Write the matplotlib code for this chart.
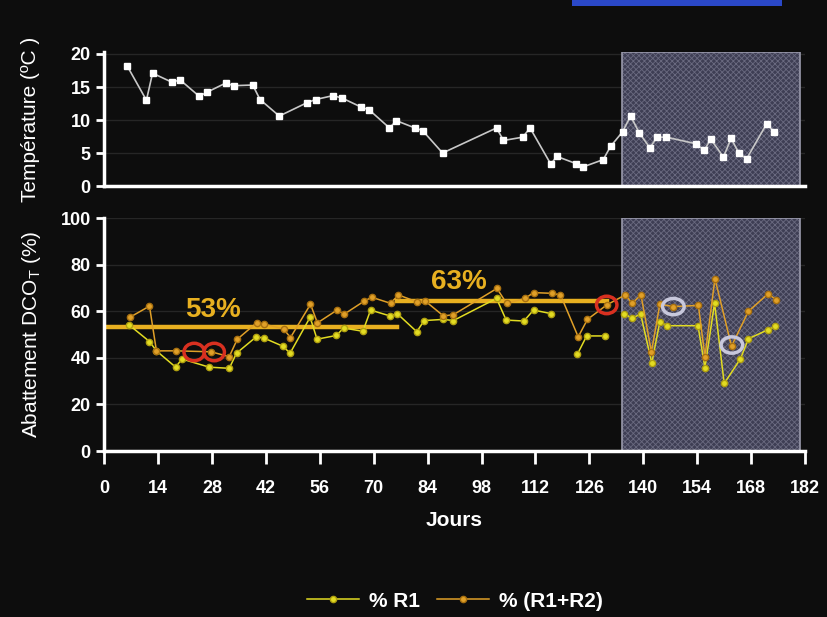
import matplotlib
matplotlib.use("Agg")
import matplotlib.pyplot as plt
import numpy as np
from matplotlib.patches import Ellipse, Rectangle

plt.rcParams['font.family'] = ['Liberation Sans', 'DejaVu Sans']
plt.rcParams['hatch.linewidth'] = 0.6

# Temperature (top panel)
temp_days = [6, 11, 12.6, 17.7, 19.7, 24.7, 26.7, 31.6, 33.7, 38.6, 40.5, 45.5,
             52.6, 54.9, 59.5, 61.9, 66.6, 68.9, 74.1, 75.9, 80.7, 82.7, 87.9,
             101.9, 103.7, 108.7, 110.6, 116.0, 117.5, 122.5, 124.4, 129.6, 131.5,
             134.6, 136.7, 139, 141.7, 143.6, 146, 153.7, 155.8, 157.5, 160.8,
             162.8, 164.8, 166.8, 172, 174]
temp = [18.2, 13.0, 17.1, 15.7, 16.1, 13.6, 14.2, 15.6, 15.2, 15.3, 13.1, 10.6,
        12.6, 13.1, 13.7, 13.3, 12.0, 11.5, 8.8, 9.9, 8.8, 8.4, 5.0,
        8.8, 6.9, 7.4, 8.8, 3.3, 4.5, 3.4, 2.9, 4.0, 6.0,
        8.2, 10.6, 8.0, 5.8, 7.4, 7.4, 6.4, 5.4, 7.1, 4.4,
        7.2, 5.0, 4.1, 9.4, 8.2]

# % R1 (NaN = no line drawn)
r1_days = [6.6, 11.8, 13.6, 18.6, 20.2, 27.3, 32.5, 34.4, 39.5, 41.5, 46.4, 48.3,
           53.5, 55.3, 60.3, 62.2, 67.2, 69.2, 74.2, 76.1, 81.2, 83.1, 88.1, 90.7,
           101.9, 104.4, 109.0, 111.5, 116.0, 119.5, 122.9, 125.3, 130.0, 132.5,
           135.0, 137.1, 139.3, 142.2, 144.3, 146.1, 154.2, 156.0, 158.5, 161.0,
           165.2, 167.3, 172.3, 174.3]
r1 = [54, 47, 43, 36, 39.5, 36, 35.5, 42, 49, 48.5, 45, 42,
      57.4, 48, 49.6, 52.8, 51.4, 60.5, 58, 59, 51.2, 56, 56.5, 56,
      65.5, 56.2, 55.8, 60.5, 59, np.nan, 41.6, 49.4, 49.4, np.nan,
      59, 57, 58.8, 37.8, 55.5, 53.8, 53.8, 35.8, 63.5, 29,
      39.5, 48.2, 52, 53.5]

# % (R1+R2)
r12_days = [6.7, 11.8, 13.6, 18.7, 27.8, 32.5, 34.6, 39.6, 41.5, 46.6, 48.4,
            53.6, 55.4, 60.4, 62.4, 67.4, 69.5, 74.4, 76.4, 81.3, 83.3, 88.1, 90.7,
            102.0, 104.5, 109.3, 111.5, 116.2, 118.5, 123.1, 125.5, 130.5,
            135.3, 137.1, 139.4, 142.1, 144.3, 147.8, 154.3, 156.0, 158.6, 162.9,
            167.3, 172.4, 174.4]
r12 = [57.4, 62.2, 43, 43, 42.6, 40.5, 48, 55, 54.5, 52.4, 48.7,
       63, 55, 60.4, 58.8, 64.2, 66, 63.4, 67, 64, 64.5, 58, 58.5,
       69.8, 63.4, 65.5, 68, 67.7, 67, 49, 56.5, 62.7,
       67, 63.4, 67, 42.5, 63, 62, 62.5, 40.5, 74, 45,
       60, 67.5, 65]

# mean lines: start day, end day, level; labels with their positions
mean_start = [1, 76]
mean_end = [76, 130.5]
mean_level = [53.2, 64.5]
mean_labels = ["53%", "63%"]
label_x = [28.3, 92]
label_y = [55.0, 67]

red_marks = [(23.4, 42.5), (28.6, 42.5), (130.5, 62.7)]
grey_marks = [(147.8, 62), (163.0, 45.5)]
shade_start, shade_end = 134.5, 180.7

bg = '#0d0d0d'
yellow = '#e2dc22'
orange = '#e0a028'
gold = '#e8b020'
shade_face = '#3e3e54'
shade_hatch = '#6a6a80'

fig = plt.figure(figsize=(8.27, 6.17), dpi=100, facecolor=bg)
ax1 = fig.add_axes([0.1258, 0.6985, 0.8477, 0.2172])
ax2 = fig.add_axes([0.1258, 0.269, 0.8477, 0.3776])

for ax in (ax1, ax2):
    ax.set_facecolor(bg)
    for s in ('top', 'right'):
        ax.spines[s].set_visible(False)
    for s in ('left', 'bottom'):
        ax.spines[s].set_color('white')
        ax.spines[s].set_linewidth(2.5)
    ax.tick_params(colors='white', width=2, length=6, labelsize=13)
    ax.set_xlim(0, 182)
    ax.grid(axis='y', color='#262626', lw=1)
    ax.set_axisbelow(True)

# top panel
ax1.set_ylim(0, 20.3)
ax1.set_yticks([0, 5, 10, 15, 20])
ax1.set_xticks([])
ax1.add_patch(Rectangle((shade_start, 0), shade_end - shade_start, 20.3,
                        facecolor=shade_face, edgecolor=shade_hatch, hatch='xxxxxx',
                        lw=0, zorder=1))
ax1.add_patch(Rectangle((shade_start, 0), shade_end - shade_start, 20.3,
                        fill=False, edgecolor='#9a9aac', lw=1.2, zorder=1))
ax1.plot(temp_days, temp, color='#c8c8c8', lw=1.2, marker='s', ms=4.5,
         mfc='white', mec='white', zorder=3)
ax1.set_ylabel("Température (ºC )", color='white', fontsize=15, labelpad=22)

# bottom panel
ax2.set_ylim(0, 100)
ax2.set_yticks(range(0, 101, 20))
ax2.set_xticks(range(0, 183, 14))
ax2.tick_params(axis='x', direction='out', length=9, pad=12)
ax2.add_patch(Rectangle((shade_start, 0), shade_end - shade_start, 100,
                        facecolor=shade_face, edgecolor=shade_hatch, hatch='xxxxxx',
                        lw=0, zorder=1))
ax2.add_patch(Rectangle((shade_start, 0), shade_end - shade_start, 100,
                        fill=False, edgecolor='#9a9aac', lw=1.2, zorder=1))
for lab in ax2.get_yticklabels() + ax2.get_xticklabels() + ax1.get_yticklabels():
    lab.set_fontweight('bold')

for x0, x1, lvl in zip(mean_start, mean_end, mean_level):
    ax2.plot([x0, x1], [lvl, lvl], color=gold, lw=3.2, zorder=2)
for txt, tx, ty in zip(mean_labels, label_x, label_y):
    ax2.text(tx, ty, txt, color=gold, fontsize=20, fontweight='bold',
             ha='center', va='bottom', zorder=5)

ax2.plot(r1_days, r1, color=yellow, lw=1.1, marker='o', ms=4.5,
         mfc=yellow, mec='#b0a010', label='% R1', zorder=3)
ax2.plot(r12_days, r12, color=orange, lw=1.1, marker='o', ms=4.5,
         mfc=orange, mec='#a87010', label='% (R1+R2)', zorder=4)

for x, y in red_marks:
    ax2.add_patch(Ellipse((x, y), 5.3, 7.5, fill=False, edgecolor='#d83020',
                          lw=2.5, zorder=6))
for x, y in grey_marks:
    ax2.add_patch(Ellipse((x, y), 5.6, 7.0, fill=False, edgecolor='#c8c8dc',
                          lw=2.5, zorder=6))

ax2.set_ylabel("Abattement DCO$_\\mathregular{T}$ (%)", color='white',
               fontsize=15, labelpad=13)
ax2.set_xlabel("Jours", color='white', fontsize=15, fontweight='bold', labelpad=10)

leg = fig.legend(loc='lower center', bbox_to_anchor=(0.55, -0.02), ncol=2,
                 frameon=False, fontsize=15, handlelength=2.5, columnspacing=0.8,
                 handletextpad=0.5)
for t in leg.get_texts():
    t.set_color('white')
    t.set_fontweight('bold')

# blue bar at top right of the slide
fig.patches.append(Rectangle((0.692, 0.99), 0.254, 0.01, transform=fig.transFigure,
                             facecolor='#2a48c8', edgecolor='none'))

fig.savefig('out.png', dpi=100, facecolor=bg)
